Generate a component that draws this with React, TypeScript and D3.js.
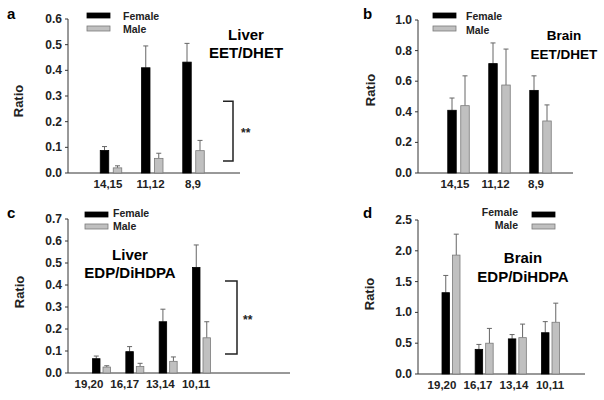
import React from "react";
import * as d3 from "d3";

// ---------- data ----------
const catsEET = ["14,15", "11,12", "8,9"];
const catsEDP = ["19,20", "16,17", "13,14", "10,11"];

const liverEETFemale = [0.088, 0.41, 0.432];
const liverEETFemaleErr = [0.015, 0.085, 0.073];
const liverEETMale = [0.02, 0.057, 0.087];
const liverEETMaleErr = [0.008, 0.02, 0.04];

const brainEETFemale = [0.41, 0.715, 0.54];
const brainEETFemaleErr = [0.08, 0.135, 0.095];
const brainEETMale = [0.44, 0.575, 0.34];
const brainEETMaleErr = [0.195, 0.235, 0.105];

const liverEDPFemale = [0.065, 0.097, 0.233, 0.48];
const liverEDPFemaleErr = [0.012, 0.023, 0.057, 0.102];
const liverEDPMale = [0.027, 0.03, 0.053, 0.16];
const liverEDPMaleErr = [0.006, 0.014, 0.02, 0.073];

const brainEDPFemale = [1.32, 0.4, 0.57, 0.67];
const brainEDPFemaleErr = [0.28, 0.08, 0.07, 0.18];
const brainEDPMale = [1.93, 0.5, 0.59, 0.84];
const brainEDPMaleErr = [0.34, 0.24, 0.22, 0.31];

const ticksA = [0, 0.1, 0.2, 0.3, 0.4, 0.5, 0.6];
const ticksB = [0, 0.2, 0.4, 0.6, 0.8, 1.0];
const ticksC = [0, 0.1, 0.2, 0.3, 0.4, 0.5, 0.6, 0.7];
const ticksD = [0, 0.5, 1.0, 1.5, 2.0, 2.5];

const seriesNames = ["Female", "Male"];
const FONT = "'Liberation Sans', Arial, sans-serif";

type PanelCfg = {
  letter: string; letterPos: [number, number];
  axisX: number; axisRight: number; yRange: [number, number];
  ticks: number[]; fmt: string;
  cats: string[]; f: number[]; fe: number[]; m: number[]; me: number[];
  pairRange: [number, number]; labelRange: [number, number];
  barW: number; gap: number;
  ratioPos: [number, number];
  legend: { rectX: number; rectY: number[]; textX: number; textY: number[]; anchor: string };
  title: string[]; titleX: number; titleY: number[]; titleSize: number;
  bracket?: { x: number; arm: number; y0: number; y1: number; starX: number };
};

function Panel({ c }: { c: PanelCfg }) {
  const y = d3.scaleLinear().domain([c.ticks[0], c.ticks[c.ticks.length - 1]]).range(c.yRange);
  const x = d3.scalePoint<string>().domain(c.cats).range(c.pairRange);
  const xl = d3.scalePoint<string>().domain(c.cats).range(c.labelRange);
  const fmt = d3.format(c.fmt);
  const y0 = y(0);
  const bars: any[] = [];
  c.cats.forEach((cat, i) => {
    const cx = x(cat)!;
    const items = [
      { v: c.f[i], e: c.fe[i], x0: cx - c.gap / 2 - c.barW, fill: "#000", stroke: "#000" },
      { v: c.m[i], e: c.me[i], x0: cx + c.gap / 2, fill: "#c0c0c0", stroke: "#7a7a7a" },
    ];
    items.forEach((b, j) => {
      const mid = b.x0 + c.barW / 2;
      bars.push(
        <g key={cat + j}>
          <line x1={mid} x2={mid} y1={y(b.v)} y2={y(b.v + b.e)} stroke="#666" strokeWidth={1} />
          <line x1={mid - 2.5} x2={mid + 2.5} y1={y(b.v + b.e)} y2={y(b.v + b.e)} stroke="#666" strokeWidth={1} />
          <rect x={b.x0} y={y(b.v)} width={c.barW} height={y0 - y(b.v)} fill={b.fill} stroke={b.stroke} strokeWidth={0.8} />
        </g>
      );
    });
  });
  return (
    <g fontFamily={FONT}>
      <text x={c.letterPos[0]} y={c.letterPos[1]} fontSize={15} fontWeight="bold">{c.letter}</text>
      <line x1={c.axisX} x2={c.axisX} y1={c.yRange[1]} y2={y0} stroke="#333" strokeWidth={1} />
      <line x1={c.axisX} x2={c.axisRight} y1={y0} y2={y0} stroke="#333" strokeWidth={1} />
      {c.ticks.map((t) => (
        <g key={t}>
          <line x1={c.axisX - 3} x2={c.axisX} y1={y(t)} y2={y(t)} stroke="#333" strokeWidth={1} />
          <text x={c.axisX - 6} y={y(t) + 4} fontSize={12} fontWeight="bold" textAnchor="end" fill="#222">{fmt(t)}</text>
        </g>
      ))}
      {c.cats.map((cat) => (
        <text key={cat} x={xl(cat)} y={y0 + 15} fontSize={11.5} fontWeight="bold" textAnchor="middle" fill="#222">{cat}</text>
      ))}
      {bars}
      <text transform={`translate(${c.ratioPos[0]},${c.ratioPos[1]}) rotate(-90)`} fontSize={13} fontWeight="bold" textAnchor="middle" fill="#222">Ratio</text>
      {seriesNames.map((s, i) => (
        <g key={s}>
          <rect x={c.legend.rectX} y={c.legend.rectY[i]} width={23} height={5}
            fill={i === 0 ? "#000" : "#c0c0c0"} stroke={i === 0 ? "#000" : "#7a7a7a"} strokeWidth={0.8} />
          <text x={c.legend.textX} y={c.legend.textY[i]} fontSize={10.5} fontWeight="bold" textAnchor={c.legend.anchor as any} fill="#222">{s}</text>
        </g>
      ))}
      {c.title.map((t, i) => (
        <text key={t} x={c.titleX} y={c.titleY[i]} fontSize={c.titleSize} fontWeight="bold" textAnchor="middle" fill="#000">{t}</text>
      ))}
      {c.bracket && (
        <g>
          <path d={`M${c.bracket.x - c.bracket.arm},${y(c.bracket.y0)}H${c.bracket.x}V${y(c.bracket.y1)}H${c.bracket.x - c.bracket.arm}`}
            fill="none" stroke="#222" strokeWidth={1.5} />
          <text x={c.bracket.starX} y={(y(c.bracket.y0) + y(c.bracket.y1)) / 2 + 6} fontSize={12} fontWeight="bold" fill="#222">**</text>
        </g>
      )}
    </g>
  );
}

const panels: PanelCfg[] = [
  {
    letter: "a", letterPos: [7, 19], axisX: 68, axisRight: 240, yRange: [173, 19],
    ticks: ticksA, fmt: ".1f", cats: catsEET,
    f: liverEETFemale, fe: liverEETFemaleErr, m: liverEETMale, me: liverEETMaleErr,
    pairRange: [111, 193.5], labelRange: [108, 193], barW: 8.5, gap: 4.5,
    ratioPos: [23, 101],
    legend: { rectX: 87, rectY: [13, 26], textX: 123, textY: [20, 33], anchor: "start" },
    title: ["Liver", "EET/DHET"], titleX: 246, titleY: [40, 58], titleSize: 15,
    bracket: { x: 233, arm: 10, y0: 0.28, y1: 0.047, starX: 241 },
  },
  {
    letter: "b", letterPos: [363, 19], axisX: 418, axisRight: 573, yRange: [173, 20],
    ticks: ticksB, fmt: ".1f", cats: catsEET,
    f: brainEETFemale, fe: brainEETFemaleErr, m: brainEETMale, me: brainEETMaleErr,
    pairRange: [458.5, 540.5], labelRange: [455, 536], barW: 8.5, gap: 4.5,
    ratioPos: [375, 90],
    legend: { rectX: 433, rectY: [13, 26], textX: 466, textY: [20, 34], anchor: "start" },
    title: ["Brain", "EET/DHET"], titleX: 564, titleY: [40, 59], titleSize: 13.5,
  },
  {
    letter: "c", letterPos: [7, 218], axisX: 68, axisRight: 290, yRange: [373, 219],
    ticks: ticksC, fmt: ".1f", cats: catsEDP,
    f: liverEDPFemale, fe: liverEDPFemaleErr, m: liverEDPMale, me: liverEDPMaleErr,
    pairRange: [101.5, 201.5], labelRange: [89, 196], barW: 7.5, gap: 3,
    ratioPos: [24, 292],
    legend: { rectX: 85, rectY: [212, 224], textX: 113, textY: [217, 230], anchor: "start" },
    title: ["Liver", "EDP/DiHDPA"], titleX: 130, titleY: [260, 278], titleSize: 15,
    bracket: { x: 237, arm: 12, y0: 0.418, y1: 0.086, starX: 243 },
  },
  {
    letter: "d", letterPos: [363, 218], axisX: 418, axisRight: 585, yRange: [374, 220],
    ticks: ticksD, fmt: ".1f", cats: catsEDP,
    f: brainEDPFemale, fe: brainEDPFemaleErr, m: brainEDPMale, me: brainEDPMaleErr,
    pairRange: [451, 550.5], labelRange: [442, 550], barW: 7.5, gap: 3,
    ratioPos: [374, 294],
    legend: { rectX: 532, rectY: [212, 224], textX: 518, textY: [216, 229], anchor: "end" },
    title: ["Brain", "EDP/DiHDPA"], titleX: 523, titleY: [263, 282], titleSize: 15,
  },
];

export default function App() {
  return (
    <svg width={604} height={400} style={{ position: "absolute", left: 0, top: 0, background: "#fff" }}>
      <rect width={604} height={400} fill="#fff" />
      {panels.map((p) => <Panel key={p.letter} c={p} />)}
    </svg>
  );
}
